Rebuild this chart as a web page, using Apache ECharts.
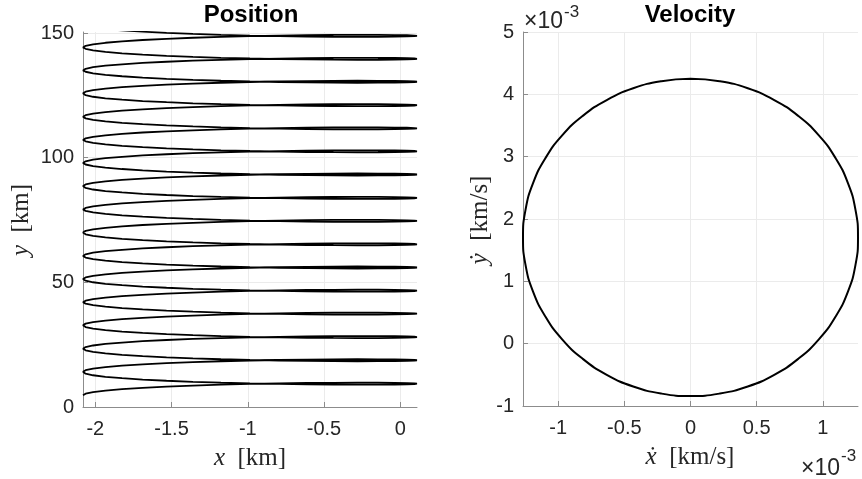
<!DOCTYPE html>
<html><head><meta charset="utf-8">
<script src="https://cdn.jsdelivr.net/npm/echarts@6/dist/echarts.min.js"></script>
<style>html,body{margin:0;padding:0;background:#fff}#c{width:862px;height:479px}</style>
</head><body><div id="c"></div>
<script>
// ---- Position plot: one orbit's shape (x in km, y offset from the left turning point in km)
const periodX = [-2.081,-2.064,-2.015,-1.934,-1.825,-1.690,-1.533,-1.360,-1.176,-0.986,-0.795,-0.611,-0.438,-0.281,-0.146,-0.037,0.044,0.093,0.110,
                 0.093,0.044,-0.037,-0.146,-0.281,-0.438,-0.611,-0.795,-0.986,-1.176,-1.360,-1.533,-1.690,-1.825,-1.934,-2.015,-2.064];
const periodDY = [0,0.642,1.272,1.880,2.454,2.985,3.464,3.885,4.243,4.535,4.760,4.918,5.014,5.051,5.037,4.980,4.889,4.775,4.650,
                  4.524,4.410,4.320,4.262,4.248,4.286,4.381,4.540,4.764,5.056,5.414,5.835,6.315,6.845,7.419,8.027,8.657];
// y of each left turning point (km)
const leftTipY = [4.7,14.1,23.4,32.8,42.0,51.3,60.6,70.0,79.2,88.6,97.9,107.1,116.4,125.8,135.0,144.2];
const positionEnd = [-1.86,151.2];
const finalSteps = 33;

// ---- Velocity plot (units of 1e-3 km/s)
const velX = [0,0.220,0.433,0.633,0.814,0.970,1.096,1.190,1.247,1.266,1.247,1.190,1.096,0.970,0.814,0.633,0.433,0.220,
              0,-0.220,-0.433,-0.633,-0.814,-0.970,-1.096,-1.190,-1.247,-1.266,-1.247,-1.190,-1.096,-0.970,-0.814,-0.633,-0.433,-0.220,0];
const velY = [4.25,4.211,4.097,3.909,3.654,3.341,2.978,2.575,2.147,1.705,1.263,0.835,0.433,0.069,-0.244,-0.499,-0.687,-0.801,
              -0.84,-0.801,-0.687,-0.499,-0.244,0.069,0.433,0.835,1.263,1.705,2.147,2.575,2.978,3.341,3.654,3.909,4.097,4.211,4.25];

// ---- Tick labels
const posXTicks = [-2,-1.5,-1,-0.5,0];
const posYTicks = [0,50,100,150];
const velXTicks = [-1,-0.5,0,0.5,1];
const velYTicks = [-1,0,1,2,3,4,5];

const posData = [];
leftTipY.forEach((tip, i) => {
  const n = (i === leftTipY.length - 1) ? finalSteps : periodX.length;
  for (let j = 0; j < n; j++) posData.push([periodX[j], tip + periodDY[j]]);
});
posData.push(positionEnd);
const velData = velX.map((v, i) => [v, velY[i]]);

const axisGray = '#8c8c8c';
function axis(min, max, ticks, gridIndex, isY) {
  return {
    type: 'value', gridIndex, min, max,
    axisLine: { show: true, onZero: false, lineStyle: { color: axisGray, width: 1 } },
    axisTick: { show: true, inside: true, length: 5, customValues: ticks, lineStyle: { color: axisGray } },
    axisLabel: { customValues: ticks, fontSize: 20, color: '#262626', fontFamily: 'Liberation Sans, Arial, sans-serif',
                 margin: isY ? 9 : 12, formatter: v => String(v) },
    splitLine: { show: true, lineStyle: { color: '#ebebeb', width: 1 } }
  };
}

const serif = 'Liberation Serif, DejaVu Serif, serif';
const richLbl = {
  i: { fontFamily: serif, fontStyle: 'italic', fontSize: 25, fill: '#262626' },
  r: { fontFamily: serif, fontSize: 25, fill: '#262626' }
};
const sans = 'Liberation Sans, Arial, sans-serif';
const chart = echarts.init(document.getElementById('c'), null, { renderer: 'canvas' });
chart.setOption({
  animation: false,
  backgroundColor: '#fff',
  grid: [
    { left: 83, top: 32, width: 334, height: 375 },
    { left: 523, top: 32, width: 335, height: 374 }
  ],
  xAxis: [axis(-2.081, 0.110, posXTicks, 0, false), axis(-1.266, 1.266, velXTicks, 1, false)],
  yAxis: [axis(0, 150.4, posYTicks, 0, true), axis(-1, 5, velYTicks, 1, true)],
  series: [
    { type: 'line', xAxisIndex: 0, yAxisIndex: 0, data: posData, showSymbol: false, symbol: 'none',
      lineStyle: { color: '#000', width: 1.8 }, clip: true },
    { type: 'line', xAxisIndex: 1, yAxisIndex: 1, data: velData, showSymbol: false, symbol: 'none', smooth: true,
      lineStyle: { color: '#000', width: 2 }, clip: true }
  ],
  graphic: [
    { type: 'text', x: 251, y: 15, style: { text: 'Position', textAlign: 'center', textVerticalAlign: 'middle',
      font: 'bold 24px ' + sans, fill: '#000' } },
    { type: 'text', x: 690, y: 15, style: { text: 'Velocity', textAlign: 'center', textVerticalAlign: 'middle',
      font: 'bold 24px ' + sans, fill: '#000' } },
    { type: 'text', x: 250, y: 458, style: { rich: richLbl, text: '{i|x}{r|  [km]}', textAlign: 'center', textVerticalAlign: 'middle' } },
    { type: 'text', x: 690, y: 457, style: { rich: richLbl, text: '{i|ẋ}{r|  [km/s]}', textAlign: 'center', textVerticalAlign: 'middle' } },
    { type: 'text', x: 21, y: 220, rotation: Math.PI / 2, style: { rich: richLbl, text: '{i|y}{r|  [km]}', textAlign: 'center', textVerticalAlign: 'middle' } },
    { type: 'text', x: 480, y: 220, rotation: Math.PI / 2, style: { rich: richLbl, text: '{i|ẏ}{r|  [km/s]}', textAlign: 'center', textVerticalAlign: 'middle' } },
    { type: 'text', x: 524, y: 22, style: { text: '×10', textAlign: 'left', textVerticalAlign: 'middle',
      font: '23px ' + sans, fill: '#262626' } },
    { type: 'text', x: 564, y: 12, style: { text: '-3', textAlign: 'left', textVerticalAlign: 'middle',
      font: '17px ' + sans, fill: '#262626' } },
    { type: 'text', x: 801, y: 469, style: { text: '×10', textAlign: 'left', textVerticalAlign: 'middle',
      font: '23px ' + sans, fill: '#262626' } },
    { type: 'text', x: 841, y: 456, style: { text: '-3', textAlign: 'left', textVerticalAlign: 'middle',
      font: '17px ' + sans, fill: '#262626' } }
  ]
});
</script></body></html>
